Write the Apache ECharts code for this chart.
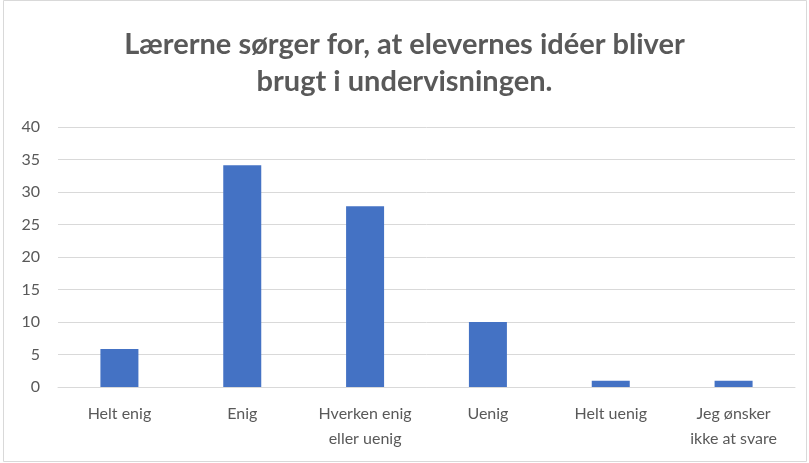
<!DOCTYPE html>
<html>
<head>
<meta charset="utf-8">
<script src="https://cdn.jsdelivr.net/npm/echarts@6/dist/echarts.min.js"></script>
<style>
  html, body { margin: 0; padding: 0; background: #fff; }
  #main { width: 809px; height: 463px; }
</style>
</head>
<body>
<div id="main"></div>
<script>
const titleText = "Lærerne sørger for, at elevernes idéer bliver\nbrugt i undervisningen.";
const categories = ["Helt enig", "Enig", "Hverken enig\neller uenig", "Uenig", "Helt uenig", "Jeg ønsker\nikke at svare"];
const values = [5.85, 34.1, 27.8, 10, 0.95, 0.95];

const chart = echarts.init(document.getElementById("main"), null, { renderer: "canvas" });

const option = {
  backgroundColor: "#fff",
  animation: false,
  title: {
    text: titleText,
    left: "center",
    top: 21,
    textStyle: {
      fontFamily: "Lato",
      fontSize: 29,
      fontWeight: "bold",
      color: "#595959",
      lineHeight: 37,
    },
  },
  graphic: [
    {
      type: "rect",
      shape: { x: 3.5, y: 0.5, width: 803, height: 461 },
      style: { fill: "none", stroke: "#d9d9d9", lineWidth: 1 },
      silent: true,
    },
  ],
  grid: {
    left: 58,
    right: 14,
    top: 127,
    bottom: 76,
  },
  xAxis: {
    type: "category",
    data: categories,
    axisLine: { show: true, lineStyle: { color: "#d9d9d9", width: 1 } },
    axisTick: { show: false },
    axisLabel: {
      color: "#595959",
      fontFamily: "Lato",
      fontSize: 16,
      lineHeight: 25,
      margin: 14,
      interval: 0,
    },
  },
  yAxis: {
    type: "value",
    min: 0,
    max: 40,
    interval: 5,
    axisLine: { show: false },
    axisTick: { show: false },
    axisLabel: {
      color: "#595959",
      fontFamily: "Lato",
      fontSize: 16,
      margin: 18,
    },
    splitLine: { lineStyle: { color: "#d9d9d9", width: 1 } },
  },
  series: [
    {
      type: "bar",
      data: values,
      barWidth: 38,
      itemStyle: { color: "#4472c4" },
    },
  ],
};

chart.setOption(option);
</script>
</body>
</html>
